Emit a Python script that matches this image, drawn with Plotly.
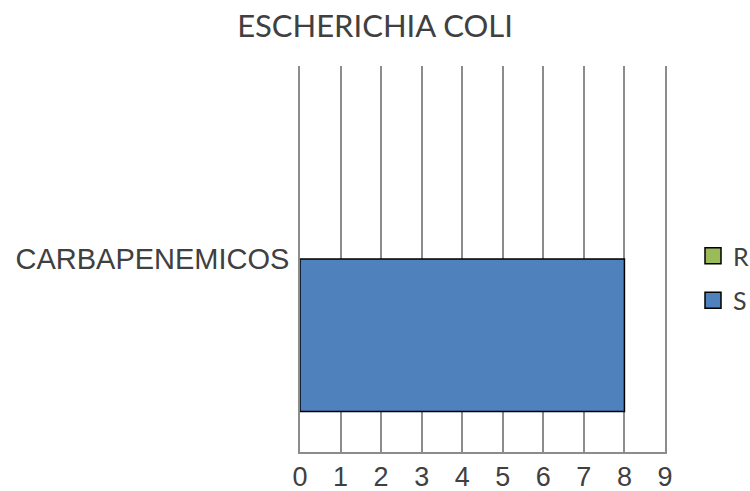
import plotly.graph_objects as go

# Antibiotic group and results per susceptibility class
categories = ["CARBAPENEMICOS"]
series_names = ["R", "S"]
values_r = [0]
values_s = [8]
x_ticks = [0, 1, 2, 3, 4, 5, 6, 7, 8, 9]

colors = {"R": "#9BBB59", "S": "#4F81BD"}
label_color = "#404040"
grid_color = "#8C8C8C"

fig = go.Figure()

# S is added first so it sits in the lower slot of the grouped bars
for name, vals in (("S", values_s), ("R", values_r)):
    fig.add_trace(go.Bar(
        y=categories,
        x=vals,
        name=name,
        orientation="h",
        showlegend=False,
        marker=dict(color=colors[name],
                    line=dict(color="#000000", width=1.5 if name == "S" else 0)),
    ))

# Legend keys: outlined square swatches, one per series
for name in series_names:
    fig.add_trace(go.Scatter(
        x=[None],
        y=[None],
        mode="markers",
        name=name,
        legendgroup=name,
        marker=dict(symbol="square", size=16, color=colors[name],
                    line=dict(color="#000000", width=1.5)),
    ))

fig.update_layout(
    width=750,
    height=491,
    paper_bgcolor="white",
    plot_bgcolor="white",
    barmode="group",
    bargap=0.21,
    bargroupgap=0,
    margin=dict(l=300, r=85, t=66, b=39, autoexpand=False),
    title=dict(
        text="ESCHERICHIA COLI",
        x=0.5,
        xref="container",
        xanchor="center",
        y=1 - 26 / 491,
        yref="container",
        yanchor="middle",
        font=dict(family="Lato", size=31, color=label_color),
    ),
    xaxis=dict(
        range=[0, 9],
        tickvals=x_ticks,
        ticktext=[str(t) for t in x_ticks],
        showgrid=True,
        gridcolor=grid_color,
        gridwidth=1.5,
        showline=True,
        linecolor=grid_color,
        linewidth=1.5,
        zeroline=False,
        ticks="",
        tickfont=dict(family="Liberation Sans", size=27, color=label_color),
        fixedrange=True,
    ),
    yaxis=dict(
        showgrid=False,
        showline=True,
        mirror=True,
        linecolor=grid_color,
        linewidth=1.5,
        zeroline=False,
        ticks="",
        ticklabelstandoff=3,
        tickfont=dict(family="Liberation Sans", size=29, color=label_color),
        fixedrange=True,
    ),
    legend=dict(
        xref="container",
        yref="container",
        x=693 / 750,
        xanchor="left",
        y=1 - 233 / 491,
        yanchor="top",
        font=dict(family="Lato", size=25, color=label_color),
        itemwidth=30,
        itemsizing="trace",
        traceorder="grouped",
        tracegroupgap=9,
        bgcolor="rgba(0,0,0,0)",
    ),
    showlegend=True,
)

fig.write_html("out.html")
